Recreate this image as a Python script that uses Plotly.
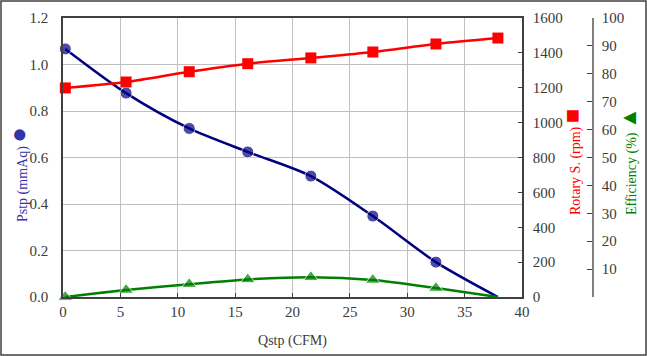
import plotly.graph_objects as go

# Data
qstp = [0.2, 5.5, 11.0, 16.1, 21.6, 27.0, 32.5, 37.9]
pstp = [1.067, 0.877, 0.725, 0.624, 0.52, 0.348, 0.15, 0.0]
rpm = [1199, 1233, 1292, 1338, 1371, 1405, 1451, 1485]
eff = [0.0, 2.5, 4.6, 6.3, 7.1, 6.1, 3.2, 0.0]

x_ticks = [0, 5, 10, 15, 20, 25, 30, 35, 40]
eff_ticks = [0, 10, 20, 30, 40, 50, 60, 70, 80, 90, 100]
eff_ticktext = [""] + [str(v) for v in eff_ticks[1:]]

W, H = 647, 356
ML, MR, MT, MB = 63, 40, 18, 59
PW = W - ML - MR
PH = H - MT - MB

def px_x(px):
    return (px - ML) / PW

def px_y(py):
    return (H - MB - py) / PH

FONT = "Liberation Serif, Times New Roman, serif"
BLUE = "#000080"
RED = "#FF0000"
GREEN = "#008000"
AX = "#404040"
GRID = "#c0c0c0"
TXT = "#3a3a3a"
TICKFONT = dict(family=FONT, size=15, color=TXT)

fig = go.Figure()

fig.add_trace(go.Scatter(
    x=qstp, y=pstp, mode="lines+markers", yaxis="y",
    line=dict(color=BLUE, width=2.5, shape="spline", smoothing=0.8),
    marker=dict(symbol="circle", size=[12] * 7 + [0], color=BLUE),
    cliponaxis=False, showlegend=False))

fig.add_trace(go.Scatter(
    x=qstp, y=rpm, mode="lines+markers", yaxis="y2",
    line=dict(color=RED, width=2.5, shape="spline", smoothing=0.8),
    marker=dict(symbol="square", size=11, color=RED),
    cliponaxis=False, showlegend=False))

fig.add_trace(go.Scatter(
    x=qstp, y=eff, mode="lines+markers", yaxis="y3",
    line=dict(color=GREEN, width=2.5, shape="spline", smoothing=0.8),
    marker=dict(symbol="triangle-up", size=[13] * 7 + [0], color=GREEN),
    cliponaxis=False, showlegend=False))

x_dom_end = (522 - ML) / PW

fig.update_layout(
    width=W, height=H,
    margin=dict(l=ML, r=MR, t=MT, b=MB, autoexpand=False),
    paper_bgcolor="white", plot_bgcolor="white",
    font=dict(family=FONT, size=15, color=TXT),
    xaxis=dict(
        domain=[0, x_dom_end], range=[0, 40], tickvals=x_ticks,
        tickfont=TICKFONT, automargin=False,
        showgrid=True, gridcolor=GRID, gridwidth=1,
        showline=True, linecolor=AX, linewidth=1.5, mirror=True,
        ticks="inside", ticklen=4, tickcolor=AX, zeroline=False,
        title=dict(text="Qstp (CFM)", font=dict(family=FONT, size=14, color=TXT), standoff=16),
    ),
    yaxis=dict(
        range=[0, 1.2], dtick=0.2, tickformat=".1f",
        tickfont=TICKFONT, automargin=False,
        showgrid=True, gridcolor=GRID, gridwidth=1,
        showline=True, linecolor=AX, linewidth=1.5,
        ticks="", ticklabelstandoff=10, zeroline=False,
    ),
    yaxis2=dict(
        range=[0, 1600], dtick=200, overlaying="y", side="right", anchor="x",
        tickfont=TICKFONT, automargin=False,
        showgrid=False, showline=True, linecolor=AX, linewidth=1.5,
        ticks="inside", ticklen=4, tickcolor=AX, zeroline=False,
        ticklabelstandoff=6,
    ),
    yaxis3=dict(
        range=[0, 100], tickvals=eff_ticks, ticktext=eff_ticktext,
        tickfont=TICKFONT, automargin=False,
        overlaying="y", side="right", anchor="free", position=px_x(593),
        showgrid=False, showline=True, linecolor="#808080", linewidth=1.5,
        ticks="inside", ticklen=5, tickcolor=AX, zeroline=False,
        ticklabelstandoff=5,
    ),
    shapes=[dict(
        type="rect", xref="paper", yref="paper",
        x0=px_x(1), x1=px_x(646), y0=px_y(355), y1=px_y(1),
        line=dict(color="#404040", width=1.5), fillcolor="rgba(0,0,0,0)",
        layer="below")],
    annotations=[
        dict(xref="paper", yref="paper", x=px_x(18), y=px_y(175),
             text="Pstp (mmAq) <span style='font-size:26px'>●</span>",
             textangle=-90, showarrow=False, xanchor="center", yanchor="middle",
             font=dict(family=FONT, size=14, color="#3333aa")),
        dict(xref="paper", yref="paper", x=px_x(572), y=px_y(162),
             text="Rotary S. (rpm) <span style='font-size:24px'>■</span>",
             textangle=-90, showarrow=False, xanchor="center", yanchor="middle",
             font=dict(family=FONT, size=14, color=RED)),
        dict(xref="paper", yref="paper", x=px_x(628), y=px_y(161),
             text="Efficiency (%) <span style='font-size:22px'>▲</span>",
             textangle=-90, showarrow=False, xanchor="center", yanchor="middle",
             font=dict(family=FONT, size=14, color=GREEN)),
    ],
)

fig.write_html(
    "out.html",
    config={"displayModeBar": False},
    post_script="document.body.style.margin='0';document.body.style.overflow='hidden';",
)
